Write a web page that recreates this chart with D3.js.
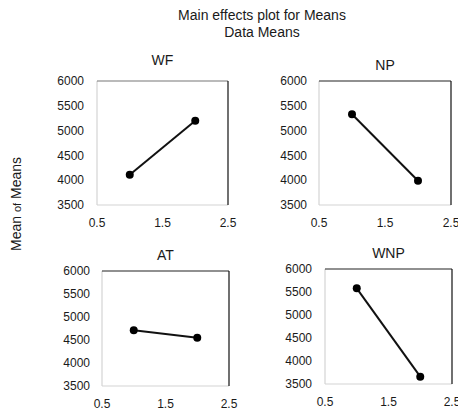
<!DOCTYPE html>
<html lang="en">
<head>
    <meta charset="UTF-8">
    <title>Main effects plot for Means</title>
    <script src="https://d3js.org/d3.v7.min.js"></script>
    <style>
        body {
            margin: 0;
            padding: 0;
            background-color: white;
        }
        svg {
            display: block;
            font-family: 'Liberation Sans', Arial, sans-serif;
        }
        text {
            fill: #1a1a1a;
        }
    </style>
</head>
<body>
    <svg width="458" height="412"></svg>

    <script>
        // data
        const factors = ["WF", "NP", "AT", "WNP"];
        const levels = [1, 2];
        const wfMeans = [4110, 5200];
        const npMeans = [5330, 3990];
        const atMeans = [4710, 4550];
        const wnpMeans = [5580, 3660];
        const xTicks = [0.5, 1.5, 2.5];
        const yTicks = [3500, 4000, 4500, 5000, 5500, 6000];

        const seriesList = [wfMeans, npMeans, atMeans, wnpMeans];

        // panel boxes (pixels)
        const boxes = [
            { left: 97,  right: 228, top: 81,  bottom: 205, titleY: 65,  labelRight: 84 },
            { left: 319, right: 451, top: 81,  bottom: 205, titleY: 70,  labelRight: 307 },
            { left: 102, right: 229, top: 271, bottom: 386, titleY: 260, labelRight: 90 },
            { left: 325, right: 452, top: 269, bottom: 384, titleY: 258, labelRight: 312 }
        ];

        const svg = d3.select("svg");

        svg.append("text")
           .attr("x", 262)
           .attr("y", 20)
           .attr("text-anchor", "middle")
           .style("font-size", "14px")
           .text("Main effects plot for Means");

        svg.append("text")
           .attr("x", 262)
           .attr("y", 37)
           .attr("text-anchor", "middle")
           .style("font-size", "14px")
           .text("Data Means");

        // y axis label
        const yl = svg.append("text")
           .attr("transform", "translate(21,204) rotate(-90)")
           .attr("text-anchor", "middle")
           .style("font-size", "14px");
        yl.append("tspan").text("Mean ");
        yl.append("tspan").style("font-size", "11px").text("of");
        yl.append("tspan").text(" Means");

        factors.forEach(function(name, i) {
            const b = boxes[i];
            const data = seriesList[i];

            const x = d3.scaleLinear().domain([0.5, 2.5]).range([b.left, b.right]);
            const y = d3.scaleLinear().domain([3500, 6000]).range([b.bottom, b.top]);

            const g = svg.append("g");

            // frame
            g.append("line")
             .attr("x1", b.left).attr("x2", b.left)
             .attr("y1", b.top).attr("y2", b.bottom)
             .attr("stroke", "#d4d4d4").attr("stroke-width", 1.2);
            g.append("line")
             .attr("x1", b.left).attr("x2", b.right)
             .attr("y1", b.bottom).attr("y2", b.bottom)
             .attr("stroke", "#d4d4d4").attr("stroke-width", 1.2);
            g.append("line")
             .attr("x1", b.left).attr("x2", b.right)
             .attr("y1", b.top).attr("y2", b.top)
             .attr("stroke", i === 0 ? "#777" : "#222").attr("stroke-width", 1.2);
            g.append("line")
             .attr("x1", b.right).attr("x2", b.right)
             .attr("y1", b.top).attr("y2", b.bottom)
             .attr("stroke", "#111").attr("stroke-width", 1.2);

            // tick labels
            g.selectAll(".ytick")
             .data(yTicks)
             .enter()
             .append("text")
             .attr("x", b.labelRight)
             .attr("y", d => y(d))
             .attr("dy", "0.35em")
             .attr("text-anchor", "end")
             .style("font-size", "12px")
             .text(d => d);

            g.selectAll(".xtick")
             .data(xTicks)
             .enter()
             .append("text")
             .attr("x", d => x(d))
             .attr("y", b.bottom + 22)
             .attr("text-anchor", "middle")
             .style("font-size", "12px")
             .text(d => d.toFixed(1));

            // title
            g.append("text")
             .attr("x", (b.left + b.right) / 2)
             .attr("y", b.titleY)
             .attr("text-anchor", "middle")
             .style("font-size", "14px")
             .text(name);

            // line + markers
            const pts = levels.map((lv, k) => ({ lv: lv, v: data[k] }));
            g.append("path")
             .datum(pts)
             .attr("fill", "none")
             .attr("stroke", "#111")
             .attr("stroke-width", 2)
             .attr("d", d3.line().x(d => x(d.lv)).y(d => y(d.v)));

            g.selectAll("circle")
             .data(pts)
             .enter()
             .append("circle")
             .attr("cx", d => x(d.lv))
             .attr("cy", d => y(d.v))
             .attr("r", 4)
             .attr("fill", "#000");
        });
    </script>
</body>
</html>
